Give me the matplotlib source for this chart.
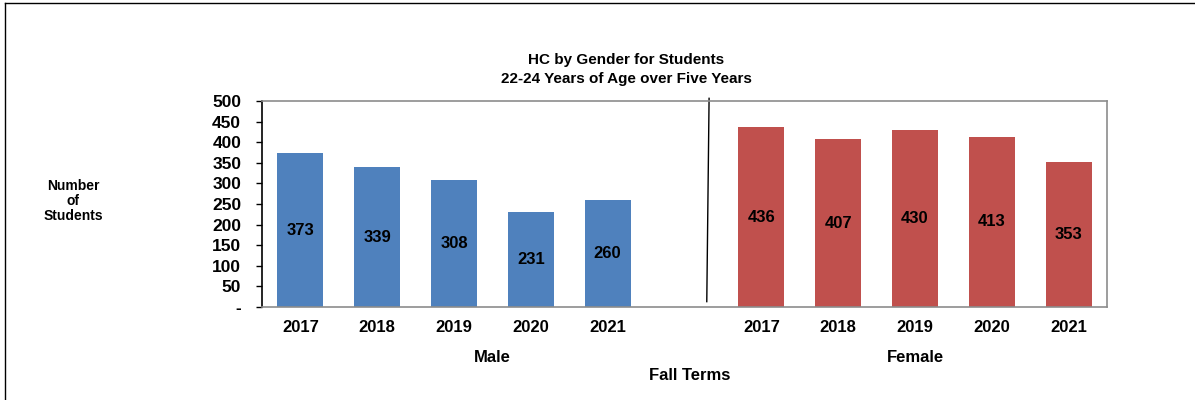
import matplotlib.pyplot as plt
from matplotlib.lines import Line2D

plt.rcParams['font.family'] = ['Liberation Sans', 'DejaVu Sans']
plt.rcParams['font.weight'] = 'bold'

years = ['2017', '2018', '2019', '2020', '2021']
male = [373, 339, 308, 231, 260]
female = [436, 407, 430, 413, 353]
y_ticks = [0, 50, 100, 150, 200, 250, 300, 350, 400, 450, 500]
y_tick_labels = ['-'] + [str(v) for v in y_ticks[1:]]

fig = plt.figure(figsize=(11.95, 4.0), dpi=100)
ax = fig.add_axes([262 / 1195, 1 - 307 / 400, 845 / 1195, 206 / 400])

male_x = list(range(len(years)))
female_x = [i + len(years) + 1 for i in range(len(years))]

ax.bar(male_x, male, width=0.6, color='#4F81BD')
ax.bar(female_x, female, width=0.6, color='#C0504D')
for x, v in zip(male_x + female_x, male + female):
    ax.text(x, v / 2, str(v), ha='center', va='center', fontsize=12, fontweight='bold')

ax.set_xlim(-0.5, 10.5)
ax.set_ylim(0, 500)
ax.set_yticks(y_ticks)
ax.set_yticklabels(y_tick_labels, fontsize=12.5, fontweight='bold')
ax.set_xticks(male_x + female_x)
ax.set_xticklabels(years + years, fontsize=12, fontweight='bold')
ax.tick_params(axis='x', length=0, pad=9)
ax.tick_params(axis='y', length=4, width=1, pad=11, direction='out')

for side in ['top', 'right', 'bottom']:
    ax.spines[side].set_color('#8c8c8c')
    ax.spines[side].set_linewidth(1.2)
ax.spines['left'].set_color('black')
ax.spines['left'].set_linewidth(1.2)

# separator between the two groups
ax.add_line(Line2D([5.32, 5.29], [1.013, 0.026], color='black', lw=1,
                   transform=ax.get_xaxis_transform(), clip_on=False))

fig.text(626 / 1195, 1 - 60 / 400, 'HC by Gender for Students', ha='center', va='center',
         fontsize=11, fontweight='bold')
fig.text(626 / 1195, 1 - 79 / 400, '22-24 Years of Age over Five Years', ha='center', va='center',
         fontsize=11, fontweight='bold')
fig.text(73 / 1195, 1 - 201 / 400, 'Number\nof\nStudents', ha='center', va='center',
         fontsize=10, fontweight='bold', linespacing=1.1)
fig.text(492 / 1195, 1 - 358 / 400, 'Male', ha='center', va='center', fontsize=12, fontweight='bold')
fig.text(915 / 1195, 1 - 358 / 400, 'Female', ha='center', va='center', fontsize=12, fontweight='bold')
fig.text(690 / 1195, 1 - 375 / 400, 'Fall Terms', ha='center', va='center', fontsize=12, fontweight='bold')

# outer frame (left and top edges visible in the original)
fig.add_artist(Line2D([5 / 1195, 5 / 1195], [0, 1 - 3 / 400], color='black', lw=1,
                      transform=fig.transFigure))
fig.add_artist(Line2D([5 / 1195, 1], [1 - 3 / 400, 1 - 3 / 400], color='black', lw=1,
                      transform=fig.transFigure))

fig.savefig('out.png', dpi=100)
